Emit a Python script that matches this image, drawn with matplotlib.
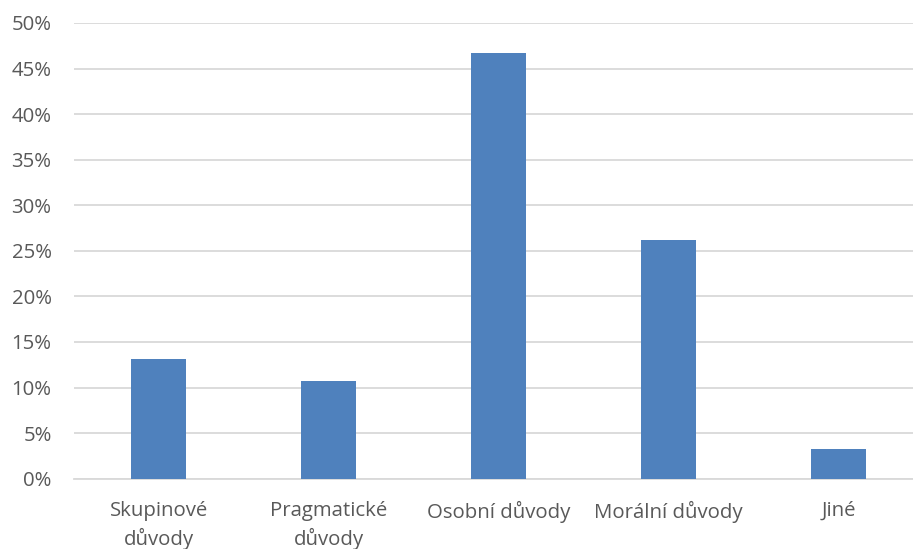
import matplotlib.pyplot as plt
from matplotlib.ticker import PercentFormatter

# Reasons and their shares
categories = ["Skupinové\ndůvody", "Pragmatické\ndůvody", "Osobní důvody",
              "Morální důvody", "Jiné"]
shares = [0.131, 0.107, 0.467, 0.262, 0.033]
y_ticks = [0.0, 0.05, 0.10, 0.15, 0.20, 0.25, 0.30, 0.35, 0.40, 0.45, 0.50]

plt.rcParams['font.family'] = ['Open Sans', 'DejaVu Sans']
text_color = '#595959'
grid_color = '#D9D9D9'

fig = plt.figure(figsize=(9.13, 5.49), dpi=100)
# plot area runs a bit past the right edge of the canvas
ax = fig.add_axes([73.8 / 913, 70.3 / 549, 850 / 913, 455.7 / 549])

x = range(len(categories))
ax.bar(x, shares, width=0.324, color='#4F81BD', zorder=3)

ax.set_xlim(-0.5, len(categories) - 0.5)
ax.set_ylim(0, 0.5)
ax.set_yticks(y_ticks)
ax.yaxis.set_major_formatter(PercentFormatter(1.0, decimals=0))
ax.set_xticks(list(x))
ax.set_xticklabels(categories, linespacing=1.42)

ax.grid(axis='y', color=grid_color, linewidth=1.3, zorder=0)
for side in ['top', 'right', 'left']:
    ax.spines[side].set_visible(False)
ax.spines['bottom'].set_color(grid_color)
ax.spines['bottom'].set_linewidth(1.3)

ax.tick_params(axis='both', length=0, labelsize=14.7, colors=text_color)
ax.tick_params(axis='y', pad=16)
ax.tick_params(axis='x', pad=16)

fig.savefig('out.png', dpi=100)
